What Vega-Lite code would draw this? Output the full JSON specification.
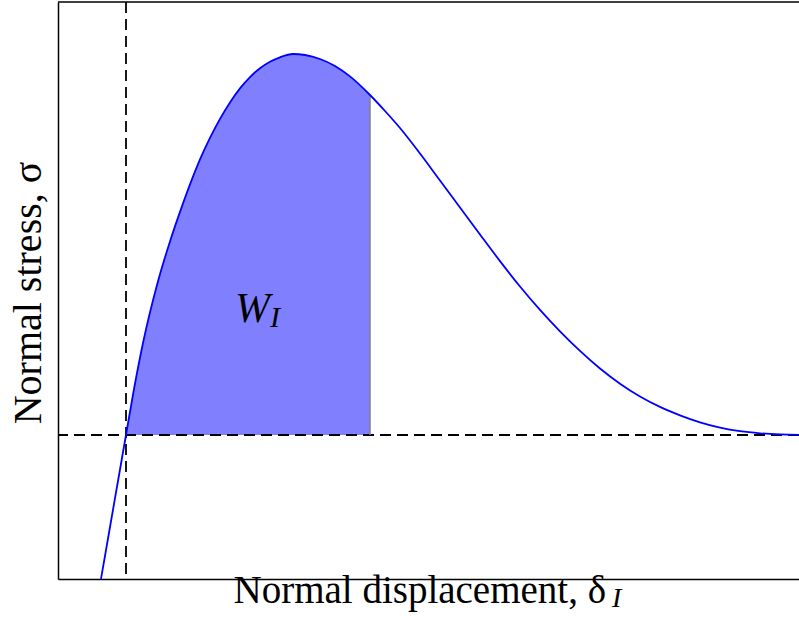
{
  "$schema": "https://vega.github.io/schema/vega-lite/v6.json",
  "width": 741,
  "height": 577,
  "autosize": {"type": "none"},
  "padding": {"left": 58, "top": 2, "right": 0, "bottom": 44},
  "background": "#ffffff",
  "config": {
    "view": {"stroke": null},
    "axis": {
      "grid": false,
      "ticks": false,
      "labels": false,
      "domainColor": "#000000",
      "domainWidth": 1.5,
      "titleFont": "Liberation Serif",
      "titleFontWeight": "normal",
      "titleColor": "#000000",
      "titleFontSize": 39
    }
  },
  "datasets": {
    "curve": [
      {"u": -0.25, "v": -1.44}, {"u": -0.16, "v": -0.92}, {"u": -0.08, "v": -0.46},
      {"u": 0, "v": 0}, {"u": 0.08, "v": 0.46}, {"u": 0.17, "v": 0.92},
      {"u": 0.31, "v": 1.5}, {"u": 0.44, "v": 1.936}, {"u": 0.54, "v": 2.231},
      {"u": 0.64, "v": 2.506}, {"u": 0.74, "v": 2.756}, {"u": 0.84, "v": 2.971},
      {"u": 0.94, "v": 3.161}, {"u": 1.04, "v": 3.326}, {"u": 1.14, "v": 3.466},
      {"u": 1.24, "v": 3.579}, {"u": 1.34, "v": 3.667}, {"u": 1.44, "v": 3.732},
      {"u": 1.54, "v": 3.777}, {"u": 1.67, "v": 3.81}, {"u": 1.79, "v": 3.8},
      {"u": 1.94, "v": 3.76}, {"u": 2.09, "v": 3.69}, {"u": 2.24, "v": 3.586},
      {"u": 2.44, "v": 3.4}, {"u": 2.59, "v": 3.24}, {"u": 2.74, "v": 3.07},
      {"u": 2.94, "v": 2.815}, {"u": 3.14, "v": 2.545}, {"u": 3.34, "v": 2.275},
      {"u": 3.54, "v": 2.005}, {"u": 3.74, "v": 1.739}, {"u": 3.94, "v": 1.485},
      {"u": 4.14, "v": 1.251}, {"u": 4.34, "v": 1.037}, {"u": 4.54, "v": 0.841},
      {"u": 4.74, "v": 0.665}, {"u": 4.94, "v": 0.513}, {"u": 5.14, "v": 0.385},
      {"u": 5.34, "v": 0.281}, {"u": 5.54, "v": 0.197}, {"u": 5.74, "v": 0.127},
      {"u": 5.94, "v": 0.074}, {"u": 6.14, "v": 0.038}, {"u": 6.34, "v": 0.017},
      {"u": 6.54, "v": 0.006}, {"u": 6.73, "v": 0.0015}
    ]
  },
  "layer": [
    {
      "data": {"name": "curve"},
      "transform": [{"filter": "datum.u >= 0 && datum.u <= 2.44"}],
      "mark": {"type": "area", "color": "#8080ff", "opacity": 1, "interpolate": "monotone"},
      "encoding": {
        "x": {
          "field": "u", "type": "quantitative",
          "scale": {"domain": [-0.68, 6.73], "nice": false, "zero": false},
          "axis": {
            "orient": "bottom",
            "title": "Normal displacement, δ",
            "titleAlign": "left",
            "titleAnchor": "start",
            "titleX": 175,
            "titleY": 23,
            "titleBaseline": "alphabetic"
          }
        },
        "y": {
          "field": "v", "type": "quantitative",
          "scale": {"domain": [-1.44, 4.33], "nice": false, "zero": false},
          "axis": {
            "orient": "left",
            "title": "Normal stress, σ",
            "titleAngle": -90,
            "titleAlign": "center",
            "titleBaseline": "alphabetic",
            "titleX": -18,
            "titleY": 290.5,
            "titleFontSize": 40
          }
        },
        "y2": {"datum": 0}
      }
    },
    {
      "data": {"values": [{}]},
      "mark": {"type": "rule", "color": "#000000", "strokeWidth": 1.8, "strokeDash": [11, 6]},
      "encoding": {"y": {"datum": 0}}
    },
    {
      "data": {"values": [{}]},
      "mark": {"type": "rule", "color": "#000000", "strokeWidth": 1.8, "strokeDash": [11, 6]},
      "encoding": {"x": {"datum": 0}}
    },
    {
      "data": {"values": [{}]},
      "mark": {"type": "rule", "color": "#000000", "strokeWidth": 1.5},
      "encoding": {"y": {"datum": 4.33}}
    },
    {
      "data": {"values": [{}]},
      "mark": {"type": "rule", "color": "#808080", "strokeWidth": 1.5},
      "encoding": {"x": {"datum": 2.44}, "y": {"datum": 0}, "y2": {"datum": 3.4}}
    },
    {
      "data": {"name": "curve"},
      "mark": {"type": "line", "color": "#0000ff", "strokeWidth": 1.8, "interpolate": "monotone"},
      "encoding": {
        "x": {"field": "u", "type": "quantitative"},
        "y": {"field": "v", "type": "quantitative"}
      }
    },
    {
      "data": {"values": [{"u": 1.09, "v": 1.13, "label": "W"}]},
      "mark": {"type": "text", "font": "Liberation Serif", "fontStyle": "italic", "fontSize": 42, "align": "left", "baseline": "alphabetic", "color": "#000000"},
      "encoding": {
        "x": {"field": "u", "type": "quantitative"},
        "y": {"field": "v", "type": "quantitative"},
        "text": {"field": "label"}
      }
    },
    {
      "data": {"values": [{"u": 1.44, "v": 1.08, "label": "I"}]},
      "mark": {"type": "text", "font": "Liberation Serif", "fontStyle": "italic", "fontSize": 30, "align": "left", "baseline": "alphabetic", "color": "#000000"},
      "encoding": {
        "x": {"field": "u", "type": "quantitative"},
        "y": {"field": "v", "type": "quantitative"},
        "text": {"field": "label"}
      }
    },
    {
      "data": {"values": [{"u": 4.86, "v": -1.72, "label": "I"}]},
      "mark": {"type": "text", "font": "Liberation Serif", "fontStyle": "italic", "fontSize": 28, "align": "left", "baseline": "alphabetic", "color": "#000000"},
      "encoding": {
        "x": {"field": "u", "type": "quantitative"},
        "y": {"field": "v", "type": "quantitative"},
        "text": {"field": "label"}
      }
    }
  ]
}
